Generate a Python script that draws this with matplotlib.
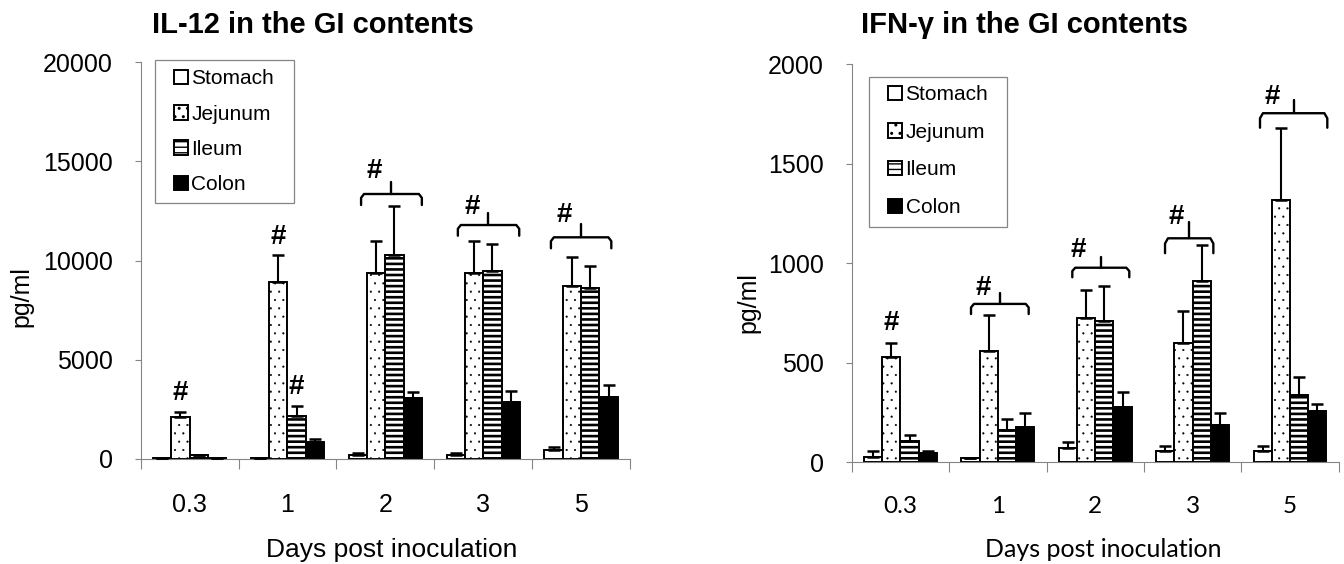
import numpy as np
import matplotlib
matplotlib.use('Agg')
import matplotlib.pyplot as plt
from matplotlib.patches import Rectangle
from matplotlib.ticker import FixedLocator, NullFormatter

plt.rcParams['font.family'] = ['Liberation Sans', 'DejaVu Sans']

days = ['0.3', '1', '2', '3', '5']
sites = ['Stomach', 'Jejunum', 'Ileum', 'Colon']

# IL-12 (pg/ml), mean and upper error
il12_stomach = [30, 60, 190, 190, 440]
il12_jejunum = [2120, 8930, 9385, 9350, 8715]
il12_ileum = [190, 2170, 10280, 9485, 8595]
il12_colon = [20, 860, 3045, 2845, 3130]
il12_stomach_err = [0, 0, 80, 80, 135]
il12_jejunum_err = [220, 1360, 1600, 1635, 1475]
il12_ileum_err = [0, 505, 2470, 1330, 1125]
il12_colon_err = [0, 135, 335, 585, 590]

# IFN-gamma (pg/ml)
ifn_stomach = [24, 18, 72, 57, 55]
ifn_jejunum = [526, 558, 723, 597, 1318]
ifn_ileum = [107, 161, 708, 910, 337]
ifn_colon = [44, 178, 278, 186, 256]
ifn_stomach_err = [31, 0, 27, 23, 25]
ifn_jejunum_err = [74, 180, 142, 164, 363]
ifn_ileum_err = [29, 55, 179, 181, 92]
ifn_colon_err = [11, 70, 73, 59, 34]

# significance marks: (day index, site index, y of '#')
il12_marks = [(0, 1, 3300), (1, 1, 11200), (1, 2, 3630)]
ifn_marks = [(0, 1, 697)]
# brackets: (day index, left, right, middle, bottom, line, peak, hash x, hash y)
il12_brackets = [(2, -0.248, 0.373, 0.059, 12800, 13355, 13945, -0.111, 14520),
                 (3, -0.259, 0.368, 0.054, 11250, 11790, 12380, -0.116, 12710),
                 (4, -0.308, 0.309, 0.002, 10615, 11170, 11840, -0.169, 12295)]
ifn_brackets = [(1, -0.275, 0.317, 0.023, 744, 795, 848, -0.149, 877),
                (2, -0.235, 0.350, 0.060, 929, 977, 1033, -0.174, 1066),
                (3, -0.283, 0.213, -0.037, 1050, 1125, 1208, -0.170, 1234),
                (4, -0.308, 0.383, 0.044, 1681, 1754, 1821, -0.182, 1834)]

W, H = 1344, 564
fig = plt.figure(figsize=(W / 100, H / 100), dpi=100)

width = 0.187
styles = [dict(color='white', hatch=None, hlw=1.0),
          dict(color='white', hatch='..', hlw=0.3),
          dict(color='white', hatch='---', hlw=1.9),
          dict(color='black', hatch=None, hlw=1.0)]
grey = '#858585'


def panel(rect, means, errs, ymax, ystep, marks, brackets, title, title_x,
          leg_anchor, leg_frame, leg_spacing, ylab_pos, xlab_pos, xfont):
    ax = fig.add_axes(rect)
    x = np.arange(len(days))
    handles = []
    for i, (m, e, st) in enumerate(zip(means, errs, styles)):
        pos = x + (i - 1.5) * width
        with plt.rc_context({'hatch.linewidth': st['hlw'], 'hatch.color': 'black'}):
            bars = ax.bar(pos, m, width, color=st['color'], edgecolor='black',
                          linewidth=1.4, hatch=st['hatch'], label=sites[i], zorder=2)
            for b in bars:
                if hasattr(b, 'set_hatch_linewidth'):
                    b.set_hatch_linewidth(st['hlw'])
        ax.errorbar(pos, m, yerr=[np.zeros(len(e)), e], fmt='none', ecolor='black',
                    elinewidth=1.5, capsize=4.3, capthick=1.8, zorder=3)
        handles.append(bars)

    for g, s, yv in marks:
        ax.text(g + (s - 1.5) * width, yv, '#', ha='center', va='center',
                fontsize=20, fontweight='bold')
    for g, x0, x1, xm, yb, yl, yp, hx, hy in brackets:
        dx = 0.03
        dy = (yl - yb) * 0.35
        ax.plot([g + x0, g + x0, g + x0 + dx, g + x1 - dx, g + x1, g + x1],
                [yb, yl - dy, yl, yl, yl - dy, yb], color='black', lw=1.7,
                solid_joinstyle='round', solid_capstyle='round', zorder=4)
        ax.plot([g + xm, g + xm], [yl, yp], color='black', lw=1.7,
                solid_capstyle='round', zorder=4)
        ax.text(g + hx, hy, '#', ha='center', va='center', fontsize=20,
                fontweight='bold')

    ax.set_xlim(-0.5, len(days) - 0.5)
    ax.set_ylim(0, ymax)
    ax.set_yticks(np.arange(0, ymax + 1, ystep))
    ax.xaxis.set_major_locator(FixedLocator(np.arange(-0.5, len(days), 1.0)))
    ax.xaxis.set_major_formatter(NullFormatter())
    ax.xaxis.set_minor_locator(FixedLocator(x))
    ax.set_xticklabels(days, minor=True, fontsize=18 if xfont is None else 17.5,
                       family=xfont or ['Liberation Sans'])
    ax.tick_params(axis='x', which='major', length=7, width=0.8, color=grey)
    ax.tick_params(axis='x', which='minor', length=0, pad=24.5)
    ax.tick_params(axis='y', length=4.3, width=0.8, color=grey, labelsize=18, pad=15.6)
    for sp in ['top', 'right']:
        ax.spines[sp].set_visible(False)
    for sp in ['left', 'bottom']:
        ax.spines[sp].set_color(grey)
        ax.spines[sp].set_linewidth(0.8)

    ax.set_ylabel('pg/ml', fontsize=18)
    ax.yaxis.set_label_coords(*ylab_pos)
    ax.set_xlabel('Days post inoculation', fontsize=19 if xfont is None else 18,
                  family=xfont or ['Liberation Sans'])
    ax.xaxis.set_label_coords(*xlab_pos)

    ax.add_patch(Rectangle(leg_frame[:2], leg_frame[2], leg_frame[3],
                           transform=ax.transAxes, fill=False, edgecolor=grey,
                           linewidth=0.9, zorder=5, clip_on=False))
    ax.legend(handles=handles, loc='upper left', bbox_to_anchor=leg_anchor,
              frameon=False, fontsize=15, borderpad=0, borderaxespad=0,
              handlelength=0.68, handleheight=0.68, handletextpad=0.15,
              labelspacing=leg_spacing)

    fig.text(title_x / W, 1 - 33 / H, title, ha='center', va='baseline',
             fontsize=21, fontweight='bold')
    return ax


panel([140.7 / W, 1 - 458.7 / H, 489.3 / W, 396.4 / H],
      [il12_stomach, il12_jejunum, il12_ileum, il12_colon],
      [il12_stomach_err, il12_jejunum_err, il12_ileum_err, il12_colon_err],
      20000, 5000, il12_marks, il12_brackets, 'IL-12 in the GI contents', 313,
      (0.068, 0.982), (0.030, 0.644, 0.283, 0.362), 0.78,
      (-0.22, 0.408), (0.513, -0.20), None)

panel([851.7 / W, 1 - 462 / H, 487 / W, 397.7 / H],
      [ifn_stomach, ifn_jejunum, ifn_ileum, ifn_colon],
      [ifn_stomach_err, ifn_jejunum_err, ifn_ileum_err, ifn_colon_err],
      2000, 500, ifn_marks, ifn_brackets, 'IFN-γ in the GI contents', 1024.5,
      (0.075, 0.947), (0.036, 0.590, 0.283, 0.379), 0.89,
      (-0.188, 0.40), (0.516, -0.191), ['Lato', 'DejaVu Sans'])

fig.savefig('out.png', dpi=100)
